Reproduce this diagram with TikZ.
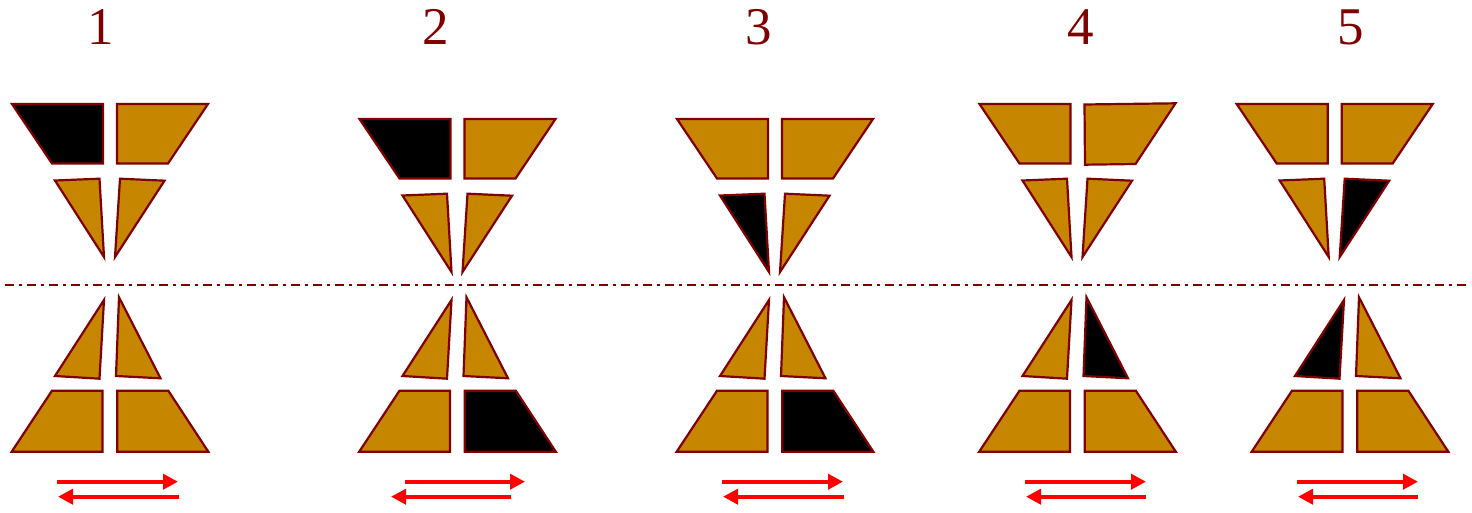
\documentclass[tikz,border=0pt]{standalone}
\usepackage{fontspec}
\setmainfont{Liberation Serif}
\usetikzlibrary{arrows.meta}
\definecolor{gold}{RGB}{199,134,0}
\definecolor{dred}{RGB}{128,0,0}
\definecolor{arrred}{RGB}{255,0,0}
\tikzset{
  pc/.style={draw=dred,line width=1.1pt,line join=miter},
  lt/.style={pc,fill=gold},
  dk/.style={pc,fill=black},
  axis/.style={draw=dred,line width=1.3pt,dash pattern=on 4.5pt off 2.5pt on 1.5pt off 2.5pt},
  mv/.style={draw=arrred,line width=2pt,-{Triangle[length=7.5pt,width=7.5pt]}},
  num/.style={text=dred,font=\fontsize{26.5}{30}\selectfont,anchor=base,inner sep=0pt}
}
% upper half pieces (relative to group centre)
\newcommand\TLtrap[1]{\path[#1] (-98,104) -- (-7,104) -- (-7,163.5) -- (-58,163.5) -- cycle;}
\newcommand\TRtrap[1]{\path[#1] (7,104) -- (98,104) -- (58,163.5) -- (7,163.5) -- cycle;}
\newcommand\ULtri[1]{\path[#1] (-55,180.5) -- (-10.5,178.7) -- (-6,257) -- cycle;}
\newcommand\URtri[1]{\path[#1] (10,178.7) -- (54.5,180.7) -- (5,257) -- cycle;}
% lower half pieces
\newcommand\LLtri[1]{\path[#1] (-6,300) -- (-55,376) -- (-10.5,378.7) -- cycle;}
\newcommand\LRtri[1]{\path[#1] (9,297.3) -- (50.5,378.3) -- (6,376) -- cycle;}
\newcommand\BLtrap[1]{\path[#1] (-58,390.7) -- (-7.5,390.7) -- (-7.5,451.7) -- (-98.3,451.7) -- cycle;}
\newcommand\BRtrap[1]{\path[#1] (7.3,390.7) -- (58.3,390.7) -- (98.3,451.7) -- (7.3,451.7) -- cycle;}
\begin{document}
\begin{tikzpicture}[x=0.5pt,y=-0.5pt]
\useasboundingbox (0,0) rectangle (1472,513);
% numbers
\node[num] (n1) at (101,45) {1};
\node[num] (n2) at (436,45) {2};
\node[num] (n3) at (759,45) {3};
\node[num] (n4) at (1081,45) {4};
\node[num] (n5) at (1351,45) {5};
% axis
\coordinate (axL) at (5,285);
\coordinate (axR) at (1467,285);
\draw[axis] (axL) -- (axR);
% group 1
\begin{scope}[shift={(110,0)}]
 \TLtrap{dk}\TRtrap{lt}\ULtri{lt}\URtri{lt}
 \LLtri{lt}\LRtri{lt}\BLtrap{lt}\BRtrap{lt}
\end{scope}
% group 2
\begin{scope}[shift={(457.5,15)}]
 \TLtrap{dk}\TRtrap{lt}\ULtri{lt}\URtri{lt}
\end{scope}
\begin{scope}[shift={(457.5,0)}]
 \LLtri{lt}\LRtri{lt}\BLtrap{lt}\BRtrap{dk}
\end{scope}
% group 3
\begin{scope}[shift={(775,15)}]
 \TLtrap{lt}\TRtrap{lt}\ULtri{dk}\URtri{lt}
\end{scope}
\begin{scope}[shift={(775,0)}]
 \LLtri{lt}\LRtri{lt}\BLtrap{lt}\BRtrap{dk}
\end{scope}
% group 4
\begin{scope}[shift={(1077.5,0)}]
 \TLtrap{lt}
 \path[lt] (7,104.5) -- (98,103.3) -- (58,164) -- (7.5,164.7) -- cycle;
 \ULtri{lt}\URtri{lt}
 \LLtri{lt}\LRtri{dk}\BLtrap{lt}\BRtrap{lt}
\end{scope}
% group 5
\begin{scope}[shift={(1334.7,0)}]
 \TLtrap{lt}\TRtrap{lt}\ULtri{lt}\URtri{dk}
\end{scope}
\begin{scope}[shift={(1350,0)}]
 \LLtri{dk}\LRtri{lt}\BLtrap{lt}\BRtrap{lt}
\end{scope}
% arrows
\coordinate (a1s) at (57,481.7);   \coordinate (a1e) at (178,481.7);
\coordinate (b1s) at (179,496.7);  \coordinate (b1e) at (58,496.7);
\coordinate (a2s) at (405,481.7);  \coordinate (a2e) at (525,481.7);
\coordinate (b2s) at (511,496.7);  \coordinate (b2e) at (391,496.7);
\coordinate (a3s) at (722,481.7);  \coordinate (a3e) at (843,481.7);
\coordinate (b3s) at (844,496.7);  \coordinate (b3e) at (723,496.7);
\coordinate (a4s) at (1025,481.7); \coordinate (a4e) at (1146,481.7);
\coordinate (b4s) at (1146,496.7); \coordinate (b4e) at (1026,496.7);
\coordinate (a5s) at (1297,481.7); \coordinate (a5e) at (1418,481.7);
\coordinate (b5s) at (1418,496.7); \coordinate (b5e) at (1298,496.7);
\foreach \i in {1,...,5}{
  \draw[mv] (a\i s) -- (a\i e);
  \draw[mv] (b\i s) -- (b\i e);
}
\end{tikzpicture}
\end{document}
